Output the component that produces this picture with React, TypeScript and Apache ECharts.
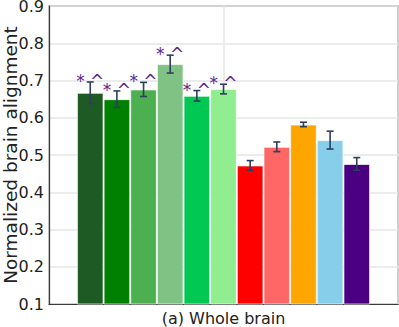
import React, { useEffect, useRef } from "react";
import * as echarts from "echarts";

const categories = ["(a) Whole brain"];
const seriesNames = [
  "Model 1", "Model 2", "Model 3", "Model 4", "Model 5", "Model 6",
  "Model 7", "Model 8", "Model 9", "Model 10", "Model 11",
];
const values = [0.667, 0.650, 0.676, 0.744, 0.659, 0.677, 0.472, 0.522, 0.582, 0.540, 0.476];
const errors = [0.029, 0.022, 0.019, 0.024, 0.014, 0.013, 0.013, 0.013, 0.006, 0.024, 0.017];
const annotations = ["* ^", "* ^", "* ^", "* ^", "* ^", "* ^", "", "", "", "", ""];
const colors = [
  "#1e5b24", "#008000", "#4caf50", "#80c184", "#00c853", "#90ee90",
  "#ff0000", "#ff6666", "#ffa500", "#87ceeb", "#4b0082",
];
const yTicks = { min: 0.1, max: 0.9, interval: 0.1 };

const CAT_GAP = 0.16;
const FONT = "DejaVu Sans";

export default function App() {
  const ref = useRef<HTMLDivElement>(null);
  useEffect(() => {
    if (!ref.current) return;
    const chart = echarts.init(ref.current, undefined, { renderer: "svg" });
    const n = values.length;
    const barSeries = values.map((v, i) => ({
      type: "bar",
      name: seriesNames[i],
      data: [v],
      barGap: "0%",
      barCategoryGap: `${CAT_GAP * 100}%`,
      itemStyle: {
        color: colors[i],
        borderColor: "rgba(255,255,255,0.7)",
        borderWidth: 1,
      },
      z: 2,
    }));
    const errSeries = {
      type: "custom",
      name: "errors",
      z: 5,
      clip: false,
      data: values.map((v, i) => [0, v, errors[i], i]),
      renderItem: (params: any, api: any) => {
        const v = api.value(1);
        const e = api.value(2);
        const idx = api.value(3);
        const c = api.coord([0, v]);
        const catW = api.size([1, 0])[0];
        const total = catW * (1 - CAT_GAP);
        const bw = total / n;
        const x = c[0] - total / 2 + bw * (idx + 0.5);
        const yTop = api.coord([0, v + e])[1];
        const yBot = api.coord([0, v - e])[1];
        const cap = 3.5;
        const st = { stroke: "#2e3f5c", lineWidth: 1.6 };
        const children: any[] = [
          { type: "line", shape: { x1: x, y1: yTop, x2: x, y2: yBot }, style: st },
          { type: "line", shape: { x1: x - cap, y1: yTop, x2: x + cap, y2: yTop }, style: st },
          { type: "line", shape: { x1: x - cap, y1: yBot, x2: x + cap, y2: yBot }, style: st },
        ];
        const ann = annotations[idx];
        if (ann) {
          children.push({
            type: "text",
            style: {
              text: ann,
              x: x,
              y: yTop - 1,
              align: "center",
              verticalAlign: "middle",
              fontSize: 17,
              fontFamily: FONT,
              fill: "#5e2590",
            },
          });
        }
        return { type: "group", children };
      },
    };
    chart.setOption({
      animation: false,
      textStyle: { fontFamily: FONT },
      grid: {
        left: 49, right: 1, top: 6, bottom: 23,
        outerBoundsMode: "none",
        containLabel: false,
        show: true, borderColor: "#3a3a3a", borderWidth: 1.2,
      },
      xAxis: [
        {
          type: "category",
          data: categories,
          axisLine: { show: true, onZero: false, lineStyle: { color: "#3a3a3a", width: 1.2 } },
          axisTick: { show: false },
          axisLabel: { fontSize: 16, color: "#222", margin: 6, fontFamily: FONT },
          splitLine: { show: false },
        },
        {
          type: "value",
          min: -1, max: 1, interval: 1,
          position: "top",
          axisLine: { show: false, onZero: false },
          axisTick: { show: false },
          axisLabel: { show: false },
          splitLine: { show: true, lineStyle: { color: "#e6e6e6", width: 1.5 } },
        },
      ],
      yAxis: {
        type: "value",
        min: yTicks.min,
        max: yTicks.max,
        interval: yTicks.interval,
        name: "Normalized brain alignment",
        nameLocation: "middle",
        nameGap: 29,
        nameMoveOverlap: false,
        nameTextStyle: { fontSize: 18.5, color: "#222", fontFamily: FONT },
        axisLine: { show: true, onZero: false, lineStyle: { color: "#3a3a3a", width: 1.2 } },
        axisTick: { show: false },
        axisLabel: {
          fontSize: 16, color: "#222", margin: 5, fontFamily: FONT, lineHeight: 12,
          formatter: (v: number) => v.toFixed(1),
        },
        splitLine: { show: true, lineStyle: { color: "#e6e6e6", width: 1.5 } },
      },
      series: [...barSeries, errSeries],
    });
    return () => chart.dispose();
  }, []);
  return (
    <div
      ref={ref}
      style={{ position: "fixed", left: 0, top: 0, width: 399, height: 327, background: "#fff" }}
    />
  );
}
